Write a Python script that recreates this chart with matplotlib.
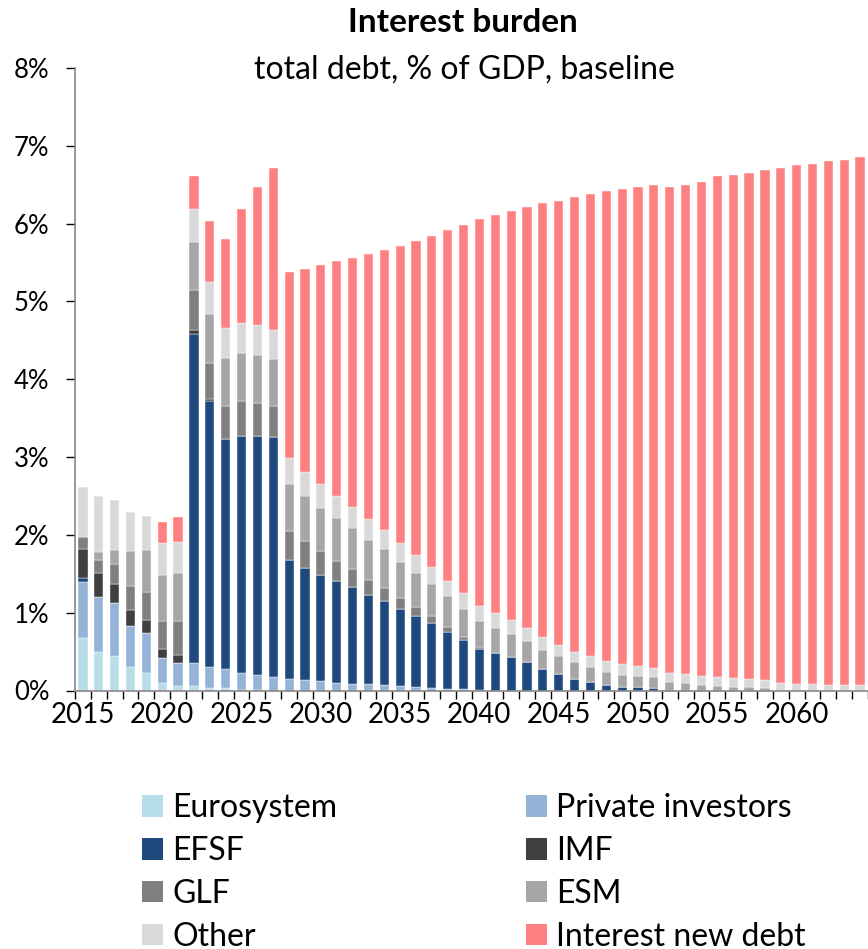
import matplotlib
matplotlib.use("Agg")
import matplotlib.pyplot as plt
from matplotlib.patches import Patch
import numpy as np

plt.rcParams['font.family'] = ['Lato', 'DejaVu Sans']

years = list(range(2015, 2065))

# interest by creditor, % of GDP
eurosystem = [0.68, 0.50, 0.44, 0.30, 0.23, 0.09, 0.06, 0.06, 0.03, 0.03,
              0.01, 0.005] + [0] * 38
private = [0.715, 0.707, 0.684, 0.526, 0.508, 0.322, 0.296, 0.287, 0.27, 0.248,
           0.215, 0.198, 0.168, 0.146, 0.132, 0.119, 0.102, 0.088, 0.079, 0.071,
           0.057, 0.044, 0.031, 0.018, 0.013, 0.005] + [0] * 24
efsf = [0.05, 0, 0, 0, 0, 0, 0, 4.239, 3.417, 2.954,
        3.042, 3.069, 3.09, 1.532, 1.44, 1.364, 1.306, 1.241, 1.144, 1.081,
        0.989, 0.914, 0.834, 0.733, 0.636, 0.53, 0.486, 0.428, 0.362, 0.274,
        0.212, 0.15, 0.107, 0.069, 0.046, 0.046, 0.031] + [0] * 13
imf = [0.37, 0.309, 0.243, 0.207, 0.167, 0.119, 0.102, 0.053, 0.027] + [0] * 41
glf = [0.163, 0.159, 0.26, 0.309, 0.358, 0.358, 0.437, 0.503, 0.459, 0.428,
       0.459, 0.428, 0.402, 0.375, 0.344, 0.305, 0.256, 0.229, 0.194, 0.164,
       0.137, 0.11, 0.093, 0.066, 0.04, 0.027] + [0] * 24
esm = [0, 0.101, 0.177, 0.451, 0.539, 0.60, 0.618, 0.623, 0.64, 0.609,
       0.614, 0.618, 0.605, 0.596, 0.578, 0.561, 0.548, 0.526, 0.517, 0.499,
       0.473, 0.442, 0.411, 0.393, 0.362, 0.331, 0.322, 0.296, 0.269, 0.243,
       0.227, 0.213, 0.19, 0.171, 0.156, 0.137, 0.138, 0.103, 0.093, 0.074,
       0.06, 0.05, 0.046, 0.027, 0, 0, 0, 0, 0, 0]
other = [0.636, 0.72, 0.644, 0.498, 0.441, 0.406, 0.397, 0.423, 0.411, 0.389,
         0.388, 0.375, 0.371, 0.344, 0.318, 0.30, 0.291, 0.278, 0.265, 0.251,
         0.238, 0.225, 0.216, 0.203, 0.198, 0.198, 0.19, 0.181, 0.177, 0.176,
         0.152, 0.137, 0.142, 0.133, 0.133, 0.128, 0.118, 0.118, 0.114, 0.114,
         0.114, 0.105, 0.099, 0.104, 0.093, 0.079, 0.079, 0.074, 0.074, 0.074]
new_debt = [0, 0, 0, 0, 0, 0.265, 0.314, 0.429, 0.781, 1.143,
            1.466, 1.775, 2.079, 2.38, 2.601, 2.817, 3.011, 3.192, 3.417, 3.594,
            3.819, 4.04, 4.252, 4.499, 4.738, 4.972, 5.108, 5.263, 5.408, 5.576,
            5.70, 5.84, 5.939, 6.043, 6.11, 6.158, 6.206, 6.248, 6.286, 6.343,
            6.432, 6.475, 6.508, 6.556, 6.627, 6.674, 6.693, 6.726, 6.75, 6.779]

series = [
    ('Eurosystem', eurosystem, '#B7DEE8'),
    ('Private investors', private, '#95B3D7'),
    ('EFSF', efsf, '#1F497D'),
    ('IMF', imf, '#404040'),
    ('GLF', glf, '#808080'),
    ('ESM', esm, '#A6A6A6'),
    ('Other', other, '#D9D9D9'),
    ('Interest new debt', new_debt, '#FF8080'),
]

fig = plt.figure(figsize=(8.68, 9.49), dpi=100)
ax = fig.add_axes([75 / 868, 1 - 690.5 / 949, 1 - 75 / 868, (690.5 - 68) / 949])

bottom = np.zeros(len(years))
for name, vals, col in series:
    ax.bar(years, vals, bottom=bottom, width=0.58, color=col,
           edgecolor='white', linewidth=0.3)
    bottom += np.array(vals)

ax.set_xlim(2014.5, 2064.26)
ax.set_ylim(0, 8)
ax.set_yticks(range(0, 9))
ax.set_yticklabels([f'{i}%' for i in range(0, 9)], fontsize=18.5)
ax.set_xticks(range(2015, 2065, 5))
ax.set_xticklabels([str(y) for y in range(2015, 2065, 5)], fontsize=20)
ax.set_xticks(np.arange(2014.5, 2065, 1), minor=True)
ax.tick_params(axis='x', which='major', length=0, pad=8)
ax.tick_params(axis='x', which='minor', length=6, width=1, color='black')
ax.tick_params(axis='y', length=6.5, width=1, pad=12, color='black')

for s in ['top', 'right']:
    ax.spines[s].set_visible(False)
for s in ['left', 'bottom']:
    ax.spines[s].set_color('#868686')
    ax.spines[s].set_linewidth(1.2)

fig.text(463 / 868, 1 - 22 / 949, 'Interest burden', fontsize=24,
         fontweight='bold', ha='center', va='center')
fig.text(464 / 868, 1 - 70 / 949, 'total debt, % of GDP, baseline',
         fontsize=23, ha='center', va='center')

# legend in two columns, laid out row by row
handles = {name: Patch(facecolor=col) for name, vals, col in series}
left_col = ['Eurosystem', 'EFSF', 'GLF', 'Other']
right_col = ['Private investors', 'IMF', 'ESM', 'Interest new debt']
for names, x in [(left_col, 135.6 / 868), (right_col, 519.6 / 868)]:
    fig.legend([handles[n] for n in names], names, loc='upper left',
               bbox_to_anchor=(x, 1 - 787 / 949), frameon=False, fontsize=23,
               handlelength=0.66, handleheight=0.66, handletextpad=0.28,
               labelspacing=0.4, borderaxespad=0, borderpad=0.2)

fig.savefig('out.png', dpi=100)
